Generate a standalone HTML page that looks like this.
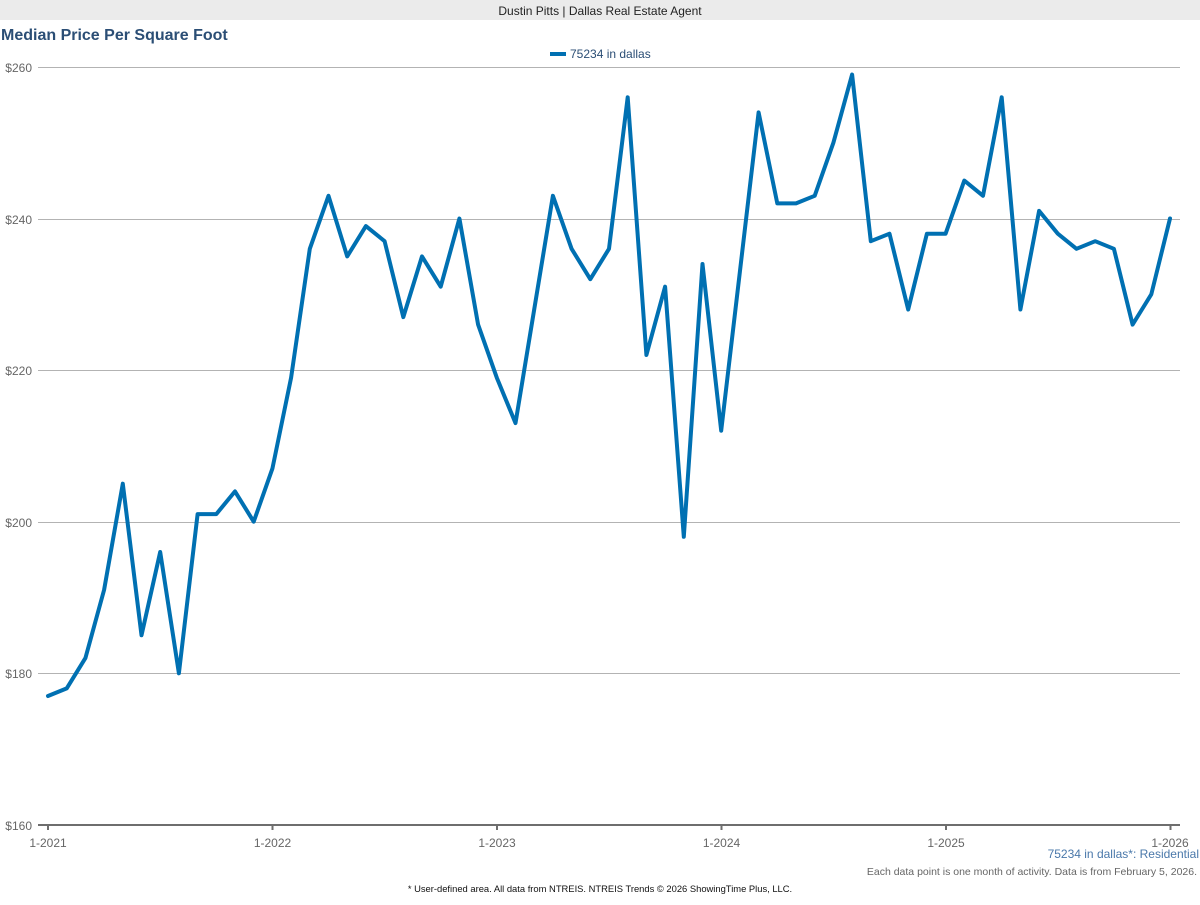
<!DOCTYPE html>
<html>
<head>
<meta charset="utf-8">
<style>
html,body{margin:0;padding:0;background:#fff;}
body{width:1200px;height:900px;overflow:hidden;font-family:"Liberation Sans",Arial,sans-serif;}
</style>
</head>
<body>
<svg width="1200" height="900" viewBox="0 0 1200 900" xmlns="http://www.w3.org/2000/svg" font-family="Liberation Sans, Arial, sans-serif">
<rect x="0" y="0" width="1200" height="20" fill="#ebebeb"/>
<text x="600" y="15" font-size="12" fill="#222" text-anchor="middle">Dustin Pitts | Dallas Real Estate Agent</text>
<text x="1" y="40" font-size="16" font-weight="bold" fill="#2b4e75">Median Price Per Square Foot</text>
<line x1="550" y1="54" x2="566" y2="54" stroke="#0070b2" stroke-width="4"/>
<text x="570" y="58" font-size="12" fill="#2b4e75">75234 in dallas</text>
<g stroke="#b3b3b3" stroke-width="1">
<line x1="38" y1="67.5" x2="1180" y2="67.5"/>
<line x1="38" y1="219.5" x2="1180" y2="219.5"/>
<line x1="38" y1="370.5" x2="1180" y2="370.5"/>
<line x1="38" y1="522.5" x2="1180" y2="522.5"/>
<line x1="38" y1="673.5" x2="1180" y2="673.5"/>
</g>
<g font-size="12" fill="#666" text-anchor="end">
<text x="32" y="72">$260</text>
<text x="32" y="224">$240</text>
<text x="32" y="375">$220</text>
<text x="32" y="527">$200</text>
<text x="32" y="678">$180</text>
<text x="32" y="830">$160</text>
</g>
<line x1="38" y1="825" x2="1180" y2="825" stroke="#6e6e6e" stroke-width="2"/>
<g stroke="#6e6e6e" stroke-width="2">
<line x1="48" y1="825" x2="48" y2="830"/>
<line x1="272.5" y1="825" x2="272.5" y2="830"/>
<line x1="497" y1="825" x2="497" y2="830"/>
<line x1="721.5" y1="825" x2="721.5" y2="830"/>
<line x1="946" y1="825" x2="946" y2="830"/>
<line x1="1170.5" y1="825" x2="1170.5" y2="830"/>
</g>
<g font-size="12" fill="#666" text-anchor="middle">
<text x="48" y="847">1-2021</text>
<text x="272.5" y="847">1-2022</text>
<text x="497" y="847">1-2023</text>
<text x="721.5" y="847">1-2024</text>
<text x="946" y="847">1-2025</text>
<text x="1170" y="847">1-2026</text>
</g>
<polyline fill="none" stroke="#0070b2" stroke-width="4" stroke-linejoin="round" stroke-linecap="round"
points="48,696 66.7,688.4 85.4,658.1 104.1,589.9 122.8,483.7 141.5,635.3 160.2,552 178.9,673.3 197.6,514.1 216.3,514.1 235,491.4 253.7,521.7 272.4,468.6 291.1,377.7 309.8,248.8 328.5,195.8 347.2,256.4 365.9,226.1 384.6,241.2 403.3,317.1 422,256.4 440.7,286.7 459.4,218.5 478.1,324.6 496.8,377.7 515.5,423.1 534.2,309.5 552.9,195.8 571.6,248.8 590.3,279.2 609,248.8 627.7,97.3 646.4,355 665.1,286.7 683.8,536.8 702.5,264 721.2,430.7 739.9,271.6 758.6,112.4 777.3,203.4 796,203.4 814.7,195.8 833.4,142.7 852.1,74.5 870.8,241.2 889.5,233.7 908.2,309.5 926.9,233.7 945.6,233.7 964.3,180.6 983,195.8 1001.7,97.3 1020.4,309.5 1039.1,210.9 1057.8,233.7 1076.5,248.8 1095.2,241.2 1113.9,248.8 1132.6,324.6 1151.3,294.3 1170,218.5"/>
<text x="1199" y="858" font-size="12" fill="#4a78aa" text-anchor="end">75234 in dallas*: Residential</text>
<text x="1197" y="875" font-size="10.5" fill="#666" text-anchor="end">Each data point is one month of activity. Data is from February 5, 2026.</text>
<text x="600" y="892" font-size="9.4" fill="#111" text-anchor="middle">* User-defined area. All data from NTREIS. NTREIS Trends © 2026 ShowingTime Plus, LLC.</text>
</svg>
</body>
</html>
